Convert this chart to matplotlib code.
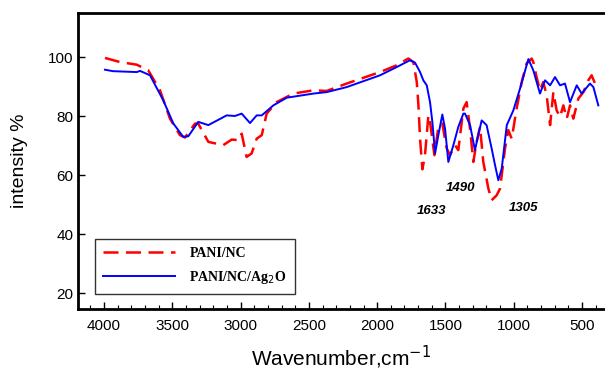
import numpy as np
import matplotlib.pyplot as plt
from matplotlib.ticker import MultipleLocator

plt.rcParams['font.family'] = ['Liberation Sans', 'DejaVu Sans']

# PANI/NC (red dashed)
wn_nc = [3993, 3883, 3760, 3676, 3590, 3517, 3444, 3407, 3334, 3310, 3236, 3127,
         3065, 3017, 2992, 2956, 2919, 2882, 2845, 2809, 2736, 2614, 2467, 2369,
         2223, 1979, 1857, 1772, 1735, 1710, 1698, 1686, 1669, 1650, 1625, 1613,
         1581, 1552, 1523, 1491, 1467, 1430, 1406, 1369, 1345, 1320, 1296, 1272,
         1247, 1223, 1186, 1162, 1125, 1100, 1064, 1040, 1015, 979, 942, 906,
         869, 857, 833, 808, 784, 759, 734, 710, 686, 661, 637, 612, 588, 564,
         527, 490, 454, 430, 405, 381]
t_nc = [99.8, 98.4, 97.5, 95.6, 88.8, 79.2, 73.6, 72.8, 77.5, 77.5, 71.3, 70.2,
        72.1, 71.9, 74.1, 66.2, 67.4, 72.4, 73.6, 80.9, 84.8, 87.7, 88.8, 88.6,
        91.1, 95.0, 97.3, 99.6, 98.4, 91.6, 83.7, 72.4, 62.0, 66.8, 80.3, 78.1,
        66.8, 76.4, 77.5, 69.1, 66.8, 70.2, 68.5, 82.6, 84.8, 75.8, 64.5, 71.3,
        76.4, 64.5, 55.5, 51.5, 53.2, 55.5, 69.1, 75.3, 72.4, 82.6, 91.6, 97.9,
        99.6, 98.4, 93.3, 88.8, 91.6, 87.1, 77.0, 88.2, 82.0, 79.8, 83.7, 79.2,
        83.7, 79.2, 86.0, 88.2, 92.2, 93.9, 91.1, 92.8]

# PANI/NC/Ag2O (blue solid)
wn_ag = [3993, 3934, 3760, 3736, 3663, 3566, 3493, 3420, 3383, 3310, 3236, 3102,
         3041, 2992, 2931, 2882, 2845, 2760, 2662, 2467, 2369, 2223, 1979, 1857,
         1760, 1723, 1686, 1662, 1637, 1613, 1596, 1576, 1552, 1523, 1503, 1479,
         1442, 1406, 1369, 1357, 1320, 1284, 1260, 1235, 1199, 1162, 1137, 1113,
         1088, 1051, 1003, 954, 906, 893, 857, 808, 771, 734, 698, 661, 625, 588,
         539, 503, 442, 417, 381]
t_ag = [95.8, 95.3, 95.0, 95.4, 93.9, 85.4, 77.6, 73.0, 73.2, 78.1, 77.0, 80.3,
        80.1, 80.9, 77.7, 80.3, 80.3, 83.7, 86.3, 87.7, 88.2, 89.9, 93.9, 96.7,
        99.0, 98.2, 95.0, 92.2, 90.5, 84.8, 78.1, 67.4, 73.6, 80.6, 75.8, 64.5,
        70.2, 76.4, 80.9, 80.9, 77.0, 68.5, 73.6, 78.6, 77.0, 69.1, 63.4, 58.3,
        62.3, 77.0, 82.0, 89.4, 97.3, 99.4, 95.6, 87.7, 92.2, 90.5, 93.3, 90.5,
        91.1, 84.8, 90.5, 87.7, 91.1, 89.9, 83.7]

peak_labels = ['1633', '1490', '1305']
peak_pos = [(1600, 48), (1393, 55.6), (932, 49)]

fig = plt.figure(figsize=(6.05, 3.75), dpi=100)
ax = fig.add_axes([0.129, 0.176, 0.871, 0.789])

ax.plot(wn_nc, t_nc, color='red', linewidth=1.8, linestyle=(0, (6, 3)), label='PANI/NC')
ax.plot(wn_ag, t_ag, color='blue', linewidth=1.4, label='PANI/NC/Ag$_2$O')

for lab, (x, y) in zip(peak_labels, peak_pos):
    ax.text(x, y, lab, fontsize=9.5, fontweight='bold', style='italic', ha='center', va='center')

ax.set_xlim(4190, 332)
ax.set_ylim(14.6, 115)
ax.set_xticks([4000, 3500, 3000, 2500, 2000, 1500, 1000, 500])
ax.xaxis.set_minor_locator(MultipleLocator(100))
ax.set_yticks([20, 40, 60, 80, 100])
ax.tick_params(direction='in', labelsize=11, length=5, width=1)
ax.tick_params(which='minor', direction='in', length=3, width=0.8)
ax.tick_params(axis='x', pad=7)

for s in ['left', 'top', 'bottom']:
    ax.spines[s].set_linewidth(2)
ax.spines['right'].set_visible(False)

ax.set_xlabel('Wavenumber,cm$^{-1}$', fontsize=15, labelpad=8)
ax.set_ylabel('intensity %', fontsize=14, labelpad=14)

leg = ax.legend(loc='lower left', bbox_to_anchor=(0.032, 0.051), borderaxespad=0,
                frameon=True, fancybox=False, edgecolor='black', handlelength=5.2,
                borderpad=0.6, labelspacing=0.6, handletextpad=1.0,
                prop={'family': 'Liberation Serif', 'weight': 'bold', 'size': 10})
leg.get_frame().set_linewidth(1)

fig.savefig('out.png', dpi=100)
